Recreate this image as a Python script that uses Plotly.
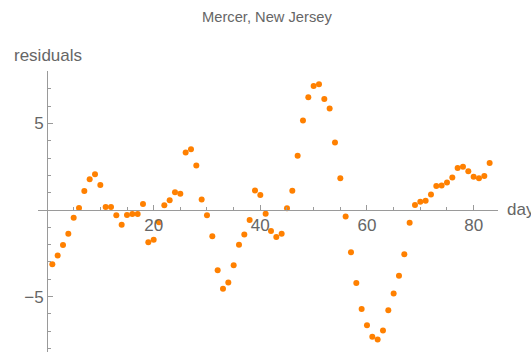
import plotly.graph_objects as go

days = list(range(1, 84))
residuals = [
    -3.13, -2.63, -2.02, -1.37, -0.44, 0.12, 1.10, 1.77, 2.07, 1.44,
    0.17, 0.17, -0.31, -0.85, -0.29, -0.23, -0.23, 0.35, -1.86, -1.71,
    -0.71, 0.27, 0.56, 1.02, 0.94, 3.32, 3.50, 2.57, 0.60, -0.31,
    -1.52, -3.48, -4.55, -4.19, -3.19, -2.00, -1.42, -0.58, 1.13, 0.86,
    -0.21, -1.21, -1.56, -1.37, 0.10, 1.11, 3.13, 5.17, 6.51, 7.16,
    7.26, 6.40, 5.86, 3.90, 1.83, -0.38, -2.44, -4.21, -5.71, -6.65,
    -7.32, -7.47, -6.95, -5.78, -4.82, -3.79, -2.56, -0.73, 0.29, 0.48,
    0.54, 0.89, 1.38, 1.42, 1.59, 1.88, 2.42, 2.50, 2.23, 1.92,
    1.83, 1.96, 2.71,
]
x_ticks = [20, 40, 60, 80]
y_ticks = [-5, 5]

W, H = 531, 352
axis_color = "#9a9a9a"
text_color = "#666666"
font_family = "Liberation Sans, Arial, sans-serif"

fig = go.Figure()
fig.add_trace(go.Scatter(
    x=days, y=residuals, mode="markers",
    marker=dict(color="#FF8000", size=6, line=dict(width=0)),
    hoverinfo="x+y", showlegend=False,
))

x0_px = 47.0
px_per_x = 5.333
y0_px = 210.0
px_per_y = 17.33

fig.update_layout(
    width=W, height=H,
    margin=dict(l=0, r=0, t=0, b=0),
    plot_bgcolor="white", paper_bgcolor="white",
    font=dict(family=font_family, color=text_color, size=17),
    xaxis=dict(
        domain=[38 / W, 498 / W],
        range=[(38 - x0_px) / px_per_x, (498 - x0_px) / px_per_x],
        anchor="free", position=1 - y0_px / H,
        showline=True, linecolor=axis_color, linewidth=1,
        showgrid=False, zeroline=False,
        tickmode="array", tickvals=x_ticks,
        ticks="inside", ticklen=5, tickcolor=axis_color, tickwidth=1,
        tickfont=dict(size=17, color=text_color),
        minor=dict(dtick=5, tick0=0, ticks="inside", ticklen=3, tickcolor=axis_color, showgrid=False),
    ),
    yaxis=dict(
        domain=[0, 1 - 71 / H],
        range=[-(H - y0_px) / px_per_y, (y0_px - 71) / px_per_y],
        anchor="free", position=x0_px / W,
        showline=True, linecolor=axis_color, linewidth=1,
        showgrid=False, zeroline=False,
        tickmode="array", tickvals=y_ticks, ticktext=["\u22125", "5"],
        ticks="inside", ticklen=5, tickcolor=axis_color, tickwidth=1,
        tickfont=dict(size=17, color=text_color),
        minor=dict(dtick=1, tick0=0, ticks="inside", ticklen=3, tickcolor=axis_color, showgrid=False),
    ),
    annotations=[
        dict(text="Mercer, New Jersey", x=267 / W, y=1 - 17 / H, xref="paper", yref="paper",
             showarrow=False, xanchor="center", yanchor="middle",
             font=dict(size=14.7, color=text_color)),
        dict(text="residuals", x=12 / W, y=1 - 55 / H, xref="paper", yref="paper",
             showarrow=False, xanchor="left", yanchor="middle",
             font=dict(size=17, color=text_color)),
        dict(text="days", x=505 / W, y=1 - 209 / H, xref="paper", yref="paper",
             showarrow=False, xanchor="left", yanchor="middle",
             font=dict(size=17, color=text_color)),
    ],
)

fig.write_html(
    "out.html",
    config={"displayModeBar": False},
    post_script="document.body.style.margin='0';document.body.style.overflow='hidden';",
)
